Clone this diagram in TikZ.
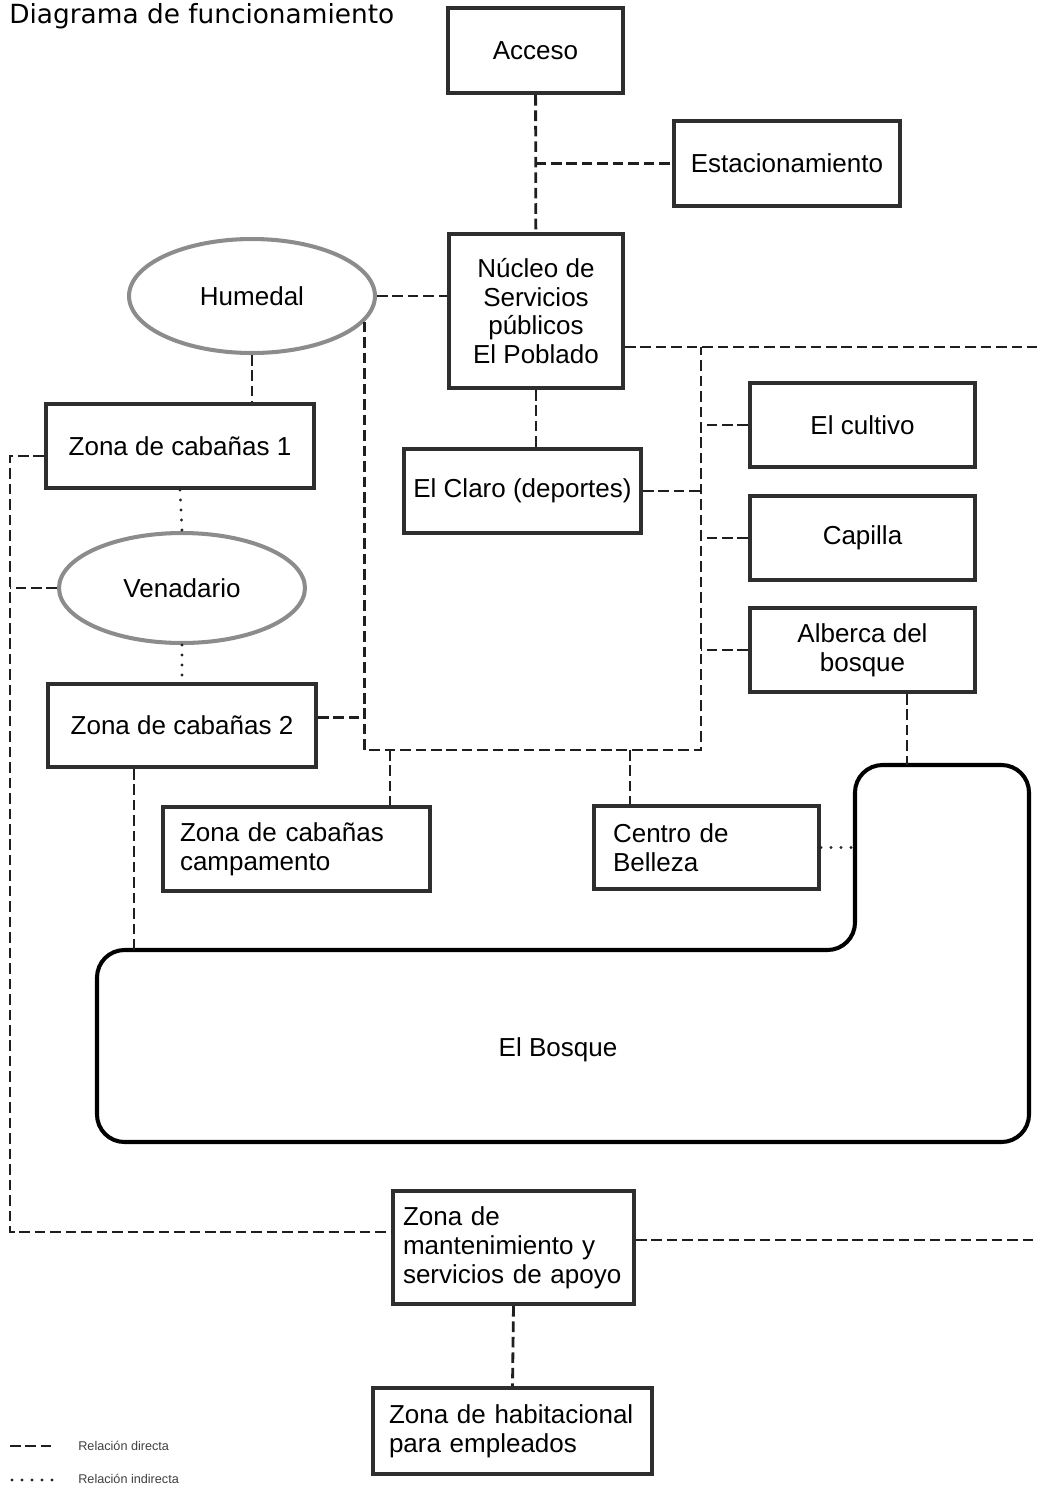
\documentclass[tikz,border=0pt]{standalone}
\usepackage{fontspec}
\setmainfont{Liberation Sans}
\newfontfamily\titlefont{DejaVu Sans}
\usetikzlibrary{shapes.geometric}

\begin{document}
\begin{tikzpicture}[x=0.02cm, y=-0.02cm]
\tikzstyle{boxr}=[rectangle, draw=black!82, line width=2.3pt, inner sep=2pt, align=center, font=\fontsize{14.8}{16.4}\selectfont]
\tikzstyle{boxl}=[boxr, align=left]
\tikzstyle{ellc}=[ellipse, draw=black!45, line width=2.3pt, inner sep=2pt, font=\fontsize{14.8}{16.4}\selectfont]
\tikzstyle{linkd}=[line width=1.6pt, dash pattern=on 6pt off 2.8pt, black!88]
\tikzstyle{linki}=[line width=1.9pt, dash pattern=on 0pt off 5.7pt, line cap=round, black!85]
\tikzstyle{legtext}=[anchor=west, inner sep=0pt, text=black!75, font=\fontsize{7.2}{8}\selectfont]

\useasboundingbox (0,0) rectangle (1037,1489);

\node[anchor=west, inner sep=0pt, font=\titlefont\fontsize{15}{18}\selectfont] (titulo) at (9,16) {Diagrama de funcionamiento};

\node[boxr, minimum width=3.5cm, minimum height=1.7cm] (acceso) at (535.5,50.5) {Acceso};
\node[boxr, minimum width=4.52cm, minimum height=1.7cm] (estac) at (787,163.5) {Estacionamiento};
\node[boxr, minimum width=3.48cm, minimum height=3.08cm] (nucleo) at (536,311) {Núcleo de\\Servicios\\públicos\\El Poblado};
\node[ellc, minimum width=4.92cm, minimum height=2.28cm] (humedal) at (252,296) {Humedal};
\node[boxr, minimum width=5.36cm, minimum height=1.68cm] (zona1) at (180,446) {Zona de cabañas 1};
\node[boxr, minimum width=4.74cm, minimum height=1.68cm] (claro) at (522.5,491) {El Claro (deportes)};
\node[boxr, minimum width=4.5cm, minimum height=1.68cm] (cultivo) at (862.5,425) {El cultivo};
\node[boxr, minimum width=4.5cm, minimum height=1.68cm] (capilla) at (862.5,538) {Capilla};
\node[boxr, minimum width=4.5cm, minimum height=1.68cm] (alberca) at (862.5,650) {Alberca del\\bosque};
\node[ellc, minimum width=4.92cm, minimum height=2.2cm] (venad) at (182,588) {Venadario};
\node[boxr, minimum width=5.36cm, minimum height=1.66cm] (zona2) at (182,725.5) {Zona de cabañas 2};
\node[boxl, inner xsep=0.34cm, text width=4.66cm, minimum height=1.68cm] (campam) at (296.5,849) {Zona de cabañas\\campamento};
\node[boxl, inner xsep=0.38cm, text width=3.74cm, minimum height=1.66cm] (belleza) at (706.5,847.5) {Centro de\\Belleza};
\node[boxl, inner xsep=0.2cm, text width=4.42cm, minimum height=2.26cm] (manten) at (513.5,1247.5) {Zona de\\mantenimiento y\\servicios de apoyo};
\node[boxl, inner xsep=0.32cm, text width=4.94cm, minimum height=1.72cm] (habit) at (512.5,1431) {Zona de habitacional\\para empleados};

\coordinate (bqA) at (97,950);
\coordinate (bqB) at (855,950);
\coordinate (bqC) at (855,765);
\coordinate (bqD) at (1029,765);
\coordinate (bqE) at (1029,1142);
\coordinate (bqF) at (97,1142);
\draw[line width=2.3pt, rounded corners=0.55cm] (bqA) -- (bqB) -- (bqC) -- (bqD) -- (bqE) -- (bqF) -- cycle;
\node[font=\fontsize{14.8}{16.4}\selectfont] (bosque) at (558,1050) {El Bosque};

\coordinate (loopL) at (361,750);
\coordinate (loopR) at (701,750);
\coordinate (tapC) at (390,750);
\coordinate (tapB) at (630,750);
\coordinate (rimN) at (1037,347);
\coordinate (rimL) at (10,1232);
\coordinate (rimE) at (1037,1240);
\coordinate (z2foot) at (134,950);
\coordinate (albfoot) at (907,765);

\draw[linkd] (acceso) -- (nucleo);
\draw[linkd] (acceso.south |- estac.west) -- (estac.west);
\draw[linkd] (humedal.east) -- (humedal.east -| nucleo.west);
\draw[linkd] (humedal.south) -- (humedal.south |- zona1.north);
\draw[linkd] (humedal.-13) -- (humedal.-13 |- loopL) -- (loopR) -- (loopR |- rimN);
\draw[linkd] (nucleo.east |- rimN) -- (rimN);
\draw[linkd] (cultivo.west) -- (cultivo.west -| loopR);
\draw[linkd] (capilla.west) -- (capilla.west -| loopR);
\draw[linkd] (alberca.west) -- (alberca.west -| loopR);
\draw[linkd] (claro.east) -- (claro.east -| loopR);
\draw[linkd] (nucleo.south) -- (nucleo.south |- claro.north);
\draw[linkd] ([yshift=4.6pt]zona2.east) -- ([yshift=4.6pt]zona2.east -| loopL);
\draw[linkd] (tapC) -- (tapC |- campam.north);
\draw[linkd] (tapB) -- (tapB |- belleza.north);
\draw[linkd] ([yshift=-5.7pt]zona1.west) -| (rimL) -- (rimL -| manten.west);
\draw[linkd] (venad.west) -- (venad.west -| rimL);
\draw[linkd] (manten.east |- rimE) -- (rimE);
\draw[linkd] (manten.south) -- (habit.north);
\draw[linkd] (z2foot |- zona2.south) -- (z2foot);
\draw[linkd] (albfoot |- alberca.south) -- (albfoot);

\draw[linki] (zona1.south) -- (venad.north);
\draw[linki] (venad.south) -- (zona2.north);
\draw[linki] (belleza.east) -- (belleza.east -| bqB);

\node[legtext] (legdir) at (78,1446) {Relación directa};
\node[legtext] (legind) at (78,1479) {Relación indirecta};
\draw[linkd] (10,1446) -- (55,1446);
\draw[linki] (12,1480) -- (55,1480);
\end{tikzpicture}
\end{document}
